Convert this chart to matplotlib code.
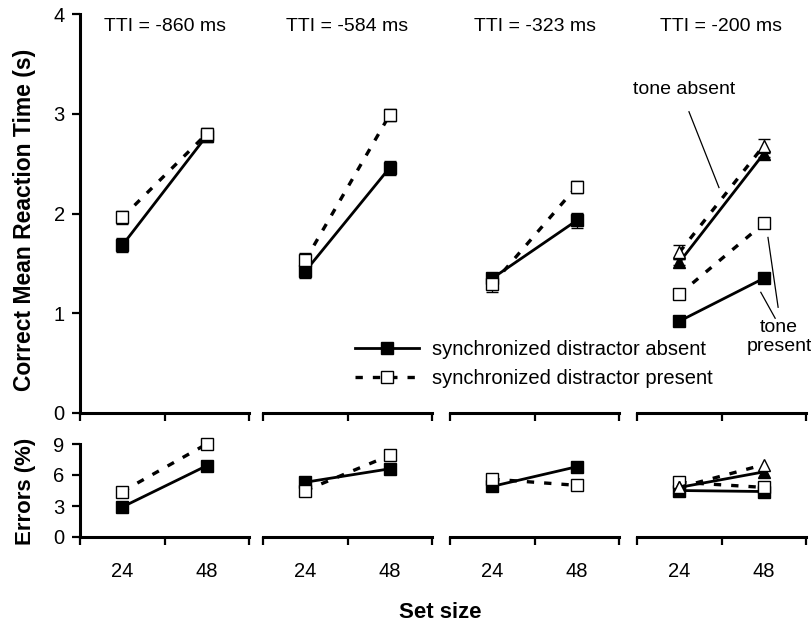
import matplotlib.pyplot as plt
from matplotlib.lines import Line2D

plt.rcParams['font.family'] = ['Liberation Sans', 'DejaVu Sans']

set_sizes = ['24', '48']
tti_labels = ['TTI = -860 ms', 'TTI = -584 ms', 'TTI = -323 ms', 'TTI = -200 ms']

# correct mean RT (s) per TTI panel, [set size 24, set size 48]
rt_absent = [[1.68, 2.78], [1.42, 2.46], [1.35, 1.93], [0.92, 1.35]]
rt_present = [[1.96, 2.80], [1.53, 2.99], [1.29, 2.27], [1.19, 1.90]]
rt_absent_se = [[0.07, 0.06], [0.07, 0.07], [0.05, 0.08], [0.02, 0.02]]
rt_present_se = [[0.07, 0.06], [0.07, 0.06], [0.08, 0.06], [0.02, 0.02]]

# TTI = -200 ms, tone absent trials (triangles)
rt_tone_absent_abs = [1.51, 2.60]
rt_tone_absent_pres = [1.61, 2.68]
rt_tone_absent_abs_se = [0.03, 0.03]
rt_tone_absent_pres_se = [0.07, 0.07]

# errors (%)
err_absent = [[2.9, 6.9], [5.3, 6.6], [4.9, 6.8], [4.5, 4.4]]
err_present = [[4.4, 9.0], [4.5, 7.9], [5.6, 5.0], [5.3, 4.8]]
err_tone_absent_abs = [4.8, 6.3]
err_tone_absent_pres = [4.8, 7.0]

xpos = [1, 3]
dash = (0, (2.2, 3.0))
W, H = 811, 628

fig = plt.figure(figsize=(W / 100, H / 100), dpi=100)
lefts = [80, 263, 450, 637]
pw = 169


def style(ax, first):
    ax.set_xlim(0, 4)
    ax.spines['top'].set_visible(False)
    ax.spines['right'].set_visible(False)
    ax.spines['left'].set_visible(first)
    ax.spines['left'].set_linewidth(2.2)
    ax.spines['bottom'].set_linewidth(2.2)
    ax.set_xticks([0, 2, 4])
    ax.set_xticklabels([])
    ax.tick_params(axis='both', which='major', direction='out', length=6,
                   width=1.6, labelsize=14.5, pad=5)
    if not first:
        ax.tick_params(axis='y', left=False, labelleft=False)
    ax.patch.set_visible(False)


def series(ax, y, se, filled, solid, marker='s'):
    kw = dict(color='black', lw=2.0 if solid else 2.4, marker=marker, ms=9,
              mfc='black' if filled else 'white', mec='black', mew=1.0,
              ls='-' if solid else dash, clip_on=False)
    if se is not None:
        ax.errorbar(xpos, y, yerr=se, ecolor='black', elinewidth=0.9,
                    capsize=4.5, capthick=0.9, **kw)
    else:
        ax.plot(xpos, y, **kw)


for i in range(4):
    ax = fig.add_axes([lefts[i] / W, 1 - 413 / H, pw / W, 399 / H])
    ax2 = fig.add_axes([lefts[i] / W, 1 - 537 / H, pw / W, 93 / H])
    style(ax, i == 0)
    style(ax2, i == 0)
    ax.set_ylim(0, 4)
    ax.set_yticks([0, 1, 2, 3, 4])
    ax2.set_ylim(0, 9)
    ax2.set_yticks([0, 3, 6, 9])
    ax2.set_xticks(xpos, minor=True)
    ax2.set_xticklabels(set_sizes, minor=True)
    ax2.tick_params(axis='x', which='minor', length=0, pad=18, labelsize=14.5)

    ax.text(2, 3.87, tti_labels[i], ha='center', va='center', fontsize=14)

    series(ax, rt_absent[i], rt_absent_se[i], True, True)
    series(ax, rt_present[i], rt_present_se[i], False, False)
    series(ax2, err_absent[i], None, True, True)
    series(ax2, err_present[i], None, False, False)

    if i == 3:
        series(ax, rt_tone_absent_abs, rt_tone_absent_abs_se, True, True, '^')
        series(ax, rt_tone_absent_pres, rt_tone_absent_pres_se, False, False, '^')
        series(ax2, err_tone_absent_abs, None, True, True, '^')
        series(ax2, err_tone_absent_pres, None, False, False, '^')

        ax.text(1.11, 3.24, 'tone absent', ha='center', va='center', fontsize=14)
        ax.plot([1.23, 1.94], [3.02, 2.26], color='black', lw=0.9)
        ax.text(3.36, 0.76, 'tone\npresent', ha='center', va='center',
                fontsize=14, linespacing=1.2, clip_on=False)
        ax.plot([3.10, 3.34], [1.76, 1.06], color='black', lw=0.9, clip_on=False)
        ax.plot([2.93, 3.27], [1.21, 0.95], color='black', lw=0.9, clip_on=False)

handles = [
    Line2D([], [], color='black', lw=2.0, marker='s', ms=9, mfc='black', mec='black'),
    Line2D([], [], color='black', lw=2.4, ls=dash, marker='s', ms=9,
           mfc='white', mec='black'),
]
fig.legend(handles, ['synchronized distractor absent', 'synchronized distractor present'],
           loc='upper left', bbox_to_anchor=(355 / W, 1 - 340 / H), frameon=False,
           fontsize=14.5, handlelength=3.2, handletextpad=0.6, labelspacing=0.5,
           borderpad=0, borderaxespad=0)

fig.text(25 / W, 1 - 220 / H, 'Correct Mean Reaction Time (s)', rotation=90,
         ha='center', va='center', fontsize=16.5, fontweight='bold')
fig.text(25 / W, 1 - 491 / H, 'Errors (%)', rotation=90,
         ha='center', va='center', fontsize=16, fontweight='bold')
fig.text(440 / W, 1 - 613 / H, 'Set size', ha='center', va='center',
         fontsize=16, fontweight='bold')

fig.savefig('out.png', dpi=100)
